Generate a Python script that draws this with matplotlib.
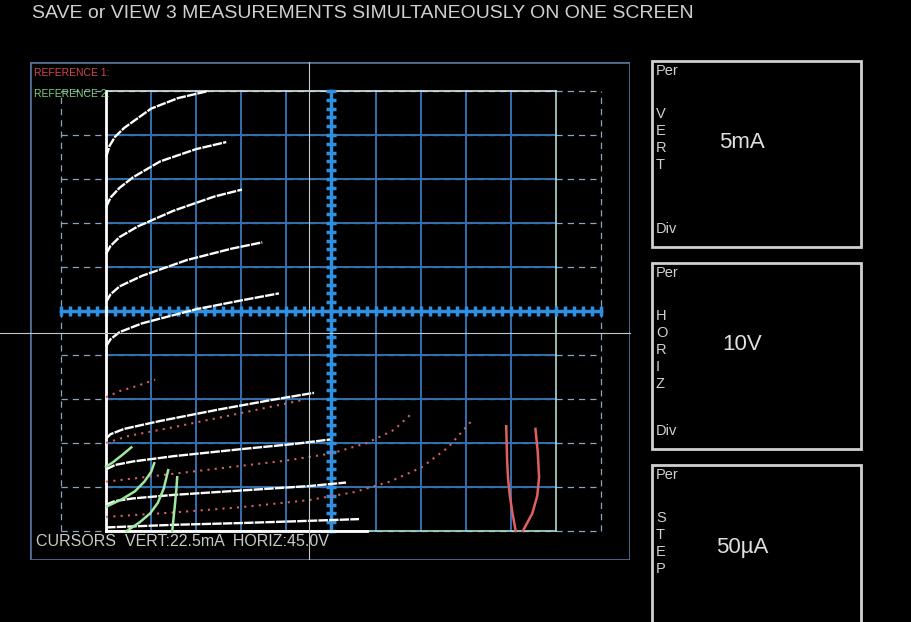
import numpy as np
import matplotlib.pyplot as plt
from matplotlib.patches import Rectangle

plt.rcParams['font.family'] = ['Liberation Sans', 'DejaVu Sans']

# measured curves (Vce in V, Ic in mA)
white_curves = [
    [(0, 42.5), (0.8, 43.8), (2, 44.8), (4, 45.8), (10, 48.0), (16, 49.2), (22.7, 50)],
    [(0, 36.8), (1, 37.9), (3, 39.0), (6, 40.2), (12, 42.0), (20, 43.4), (26.7, 44.2)],
    [(0, 31.5), (1, 32.4), (3, 33.4), (7, 34.6), (15, 36.4), (24, 38.0), (30.2, 38.8)],
    [(0, 26), (1, 26.9), (3, 27.8), (8, 29.0), (18, 30.8), (28, 32.1), (34.7, 32.8)],
    [(0, 21), (1, 21.8), (3, 22.6), (8, 23.6), (20, 25.2), (30, 26.2), (38.4, 27)],
    [(0, 10.5), (1, 11.0), (4, 11.6), (12, 12.5), (25, 13.8), (38, 15.0), (46.2, 15.7)],
    [(0, 7), (2, 7.5), (6, 7.9), (15, 8.5), (30, 9.3), (42, 9.9), (49.8, 10.4)],
    [(0, 3), (2, 3.4), (6, 3.7), (15, 4.1), (30, 4.6), (45, 5.1), (53.3, 5.5)],
    [(0, 0.4), (5, 0.5), (15, 0.7), (30, 0.9), (45, 1.15), (56.2, 1.35)],
]
# reference 1 (red)
red_dotted = [
    [(0, 15.2), (3, 15.9), (7, 16.5), (10.9, 17.2)],
    [(0, 10), (5, 10.8), (15, 11.8), (30, 13.4), (43.8, 14.9)],
    [(0, 5.6), (10, 6.2), (25, 7.1), (40, 8.0), (50, 8.8), (58, 10.0), (64, 11.5), (68, 13.4)],
    [(0, 1.6), (15, 2.1), (30, 2.7), (45, 3.5), (55, 4.4), (63, 5.6), (70, 7.2), (76, 9.5), (81, 12.4)],
]
red_solid = [
    [(91.0, 0), (90.3, 2), (89.7, 4), (89.3, 6), (89.1, 8), (88.9, 11.9)],
    [(92.6, 0), (94.7, 2), (95.8, 4), (96.2, 6.1), (95.9, 9), (95.4, 11.6)],
]
# reference 2 (green)
green_curves = [
    [(0, 7.3), (1.5, 7.8), (3.5, 8.6), (5.6, 9.5)],
    [(0.2, 2.8), (3.5, 3.6), (6.4, 4.5), (8.5, 5.6), (10.0, 6.7), (10.7, 7.7)],
    [(4.6, 0), (7.5, 1.0), (9.8, 2), (11.5, 3.2), (12.8, 4.8), (13.8, 6.9)],
    [(14.7, 0), (15.0, 1.5), (15.3, 3), (15.6, 4.6), (15.8, 6.1)],
]
cursor_v = 45.0
cursor_i = 22.5
panels = [("VERT", "5mA"), ("HORIZ", "10V"), ("STEP", "50µA")]

W, H = 912, 622
fig = plt.figure(figsize=(W / 100, H / 100), dpi=100, facecolor="black")
ax = fig.add_axes([30 / W, (H - 560) / H, 600 / W, 498 / H], facecolor="black")
ax.set_xlim(-16.9, 116.4)
ax.set_ylim(-3.3, 53.3)
ax.axis("off")

blue = "#3470b0"
dash = "#8ea4be"
# outer frame
ax.add_patch(Rectangle((0, 0), 1, 1, transform=ax.transAxes, fill=False,
                       ec="#4f6f94", lw=2))
# dashed extension grid
for y in range(0, 51, 5):
    ax.plot([-10, 110], [y, y], color=dash, lw=0.9, ls=(0, (5, 4)))
for x in (-10, 110):
    ax.plot([x, x], [0, 50], color=dash, lw=0.9, ls=(0, (5, 4)))
# main grid
for x in range(10, 100, 10):
    ax.plot([x, x], [0, 50], color=blue, lw=1.4)
for y in range(5, 50, 5):
    ax.plot([0, 100], [y, y], color=blue, lw=1.4)
ax.plot([100, 100], [0, 50], color="#a8e0d0", lw=1.2)
ax.plot([0, 100], [50, 50], color="#d8e8e8", lw=1.2)
ax.plot([0, 100], [0, 0], color="#a8e0d0", lw=1.2)
# centre axes with ticks
ax.plot([-10, 110], [25, 25], color="#2f8fe0", lw=2.5)
ax.plot([50, 50], [0, 50], color="#2f8fe0", lw=2.5)
tx = np.arange(-10, 110.1, 2)
ax.plot(tx, np.full_like(tx, 25), ls="none", marker="|", ms=7, mew=2.5, color="#2f8fe0")
ty = np.arange(0, 50.1, 1)
ax.plot(np.full_like(ty, 50), ty, ls="none", marker="_", ms=7, mew=2.5, color="#2f8fe0")

# traces
ax.plot([0, 0], [0, 50], color="white", lw=2)
ax.plot([0, 58], [0, 0], color="white", lw=2)
for c in white_curves:
    x, y = zip(*c)
    ax.plot(x, y, color="white", lw=1.7, ls=(0, (4, 0.5)))
for c in red_dotted:
    x, y = zip(*c)
    ax.plot(x, y, color="#d86060", lw=1.5, ls=(0, (1, 2.5)))
for c in red_solid:
    x, y = zip(*c)
    ax.plot(x, y, color="#e06060", lw=1.8)
for c in green_curves:
    x, y = zip(*c)
    ax.plot(x, y, color="#a0e8a0", lw=1.8)

# cursors
ax.axhline(cursor_i, xmin=-30 / 600, xmax=1, color="#c0c8d0", lw=0.8, clip_on=False)
ax.axvline(cursor_v, color="#c0c8d0", lw=0.8)

ax.text(4 / 600, 1 - 6 / 498, "REFERENCE 1:", transform=ax.transAxes, color="#d84848",
        fontsize=7.5, va="top")
ax.text(4 / 600, 1 - 27 / 498, "REFERENCE 2:", transform=ax.transAxes, color="#80d080",
        fontsize=7.5, va="top")
ax.text(6 / 600, 11 / 498, f"CURSORS  VERT:{cursor_i}mA  HORIZ:{cursor_v}V",
        transform=ax.transAxes, color="#c8c8c8", fontsize=11.5, va="bottom")

fig.text(32 / W, 1 - 13 / H, "SAVE or VIEW 3 MEASUREMENTS SIMULTANEOUSLY ON ONE SCREEN",
         color="#d0d0d0", fontsize=14, va="center")

# right panels
for i, (name, val) in enumerate(panels):
    top = 61 + i * 202
    fig.add_artist(Rectangle((652 / W, 1 - (top + 186) / H), 209 / W, 186 / H,
                             transform=fig.transFigure, fill=False, ec="#d0d0d0", lw=2))
    fig.text(656 / W, 1 - (top + 10) / H, "Per", color="#d0d0d0", fontsize=10.5, va="center")
    if i < 2:
        fig.text(656 / W, 1 - (top + 168) / H, "Div", color="#d0d0d0", fontsize=10.5, va="center")
    for k, ch in enumerate(name):
        fig.text(656 / W, 1 - (top + 53 + k * 17) / H, ch, color="#d0d0d0",
                 fontsize=10.5, va="center")
    fig.text(742 / W, 1 - (top + 82) / H, val, color="#e0e0e0", fontsize=16,
             ha="center", va="center")

fig.savefig("out.png", dpi=100, facecolor="black")
